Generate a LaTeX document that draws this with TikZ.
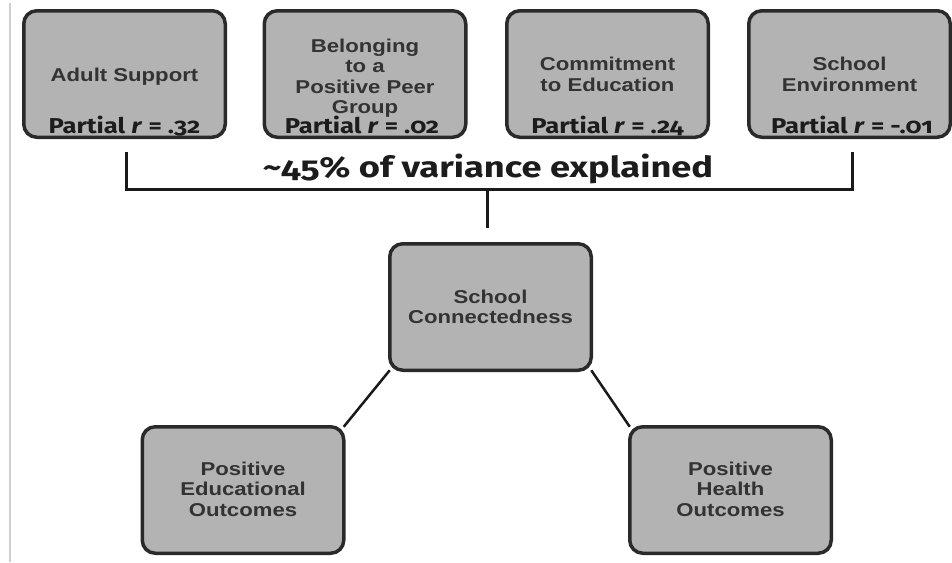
\documentclass[tikz,border=0pt]{standalone}
\usepackage{fontspec}
\setmainfont{Liberation Sans}
\newfontfamily\boxfont[FakeStretch=1.19]{Liberation Sans}
\newfontfamily\rfont[FakeStretch=1.19,Numbers=OldStyle]{Fira Sans}
\newfontfamily\tfont[FakeStretch=1.25,Numbers=OldStyle]{Fira Sans}
\usetikzlibrary{backgrounds}
\definecolor{boxfill}{HTML}{B3B3B3}
\definecolor{boxline}{HTML}{2A2A2A}
\definecolor{txtgrey}{HTML}{333333}
\definecolor{rblack}{HTML}{1C1C1C}
\definecolor{linecol}{HTML}{1A1A1A}
\definecolor{edgegrey}{HTML}{D0D0D0}
\begin{document}
\begin{tikzpicture}[x=1pt,y=-1pt,
  box/.style={draw=boxline, fill=boxfill, line width=3.5pt, rounded corners=13pt,
    minimum width=201.5pt, minimum height=126.5pt, inner sep=0pt, outer sep=0pt},
  lbl/.style={font=\boxfont\bfseries\fontsize{18.6}{20.5}\selectfont, text=txtgrey,
    align=center, inner sep=0pt},
  rlbl/.style={font=\rfont\bfseries\fontsize{21.5}{23}\selectfont, text=rblack,
    inner sep=0pt, anchor=base},
  ttl/.style={font=\tfont\bfseries\fontsize{29}{31}\selectfont, text=rblack,
    inner sep=0pt, anchor=base},
  conn/.style={line width=2.5pt, draw=linecol},
  brk/.style={line width=3pt, draw=linecol}
]
\useasboundingbox (0,0) rectangle (952,562);

% left grey edge line
\coordinate (edgeT) at (10,3);
\coordinate (edgeB) at (10,562);
\draw[edgegrey, line width=2pt] (edgeT) -- (edgeB);

% top boxes
\node[box] (b1) at (124.5,74) {};
\node[box] (b2) at (365,74) {};
\node[box] (b3) at (607.5,74) {};
\node[box] (b4) at (849.5,74) {};

\node[lbl] (t1) at (124.5,77) {Adult Support};
\node[lbl] (t2) at (365,78) {Belonging\\to a\\Positive Peer\\Group};
\node[lbl] (t3) at (607.5,74.3) {Commitment\\to Education};
\node[lbl] (t4) at (849.5,74.3) {School\\Environment};

\node[rlbl] (r1) at (124.5,133) {Partial \textit{r} = .32};
\node[rlbl] (r2) at (362,133) {Partial \textit{r} = .02};
\node[rlbl] (r3) at (607.5,133) {Partial \textit{r} = .24};
\node[rlbl] (r4) at (852,133) {Partial \textit{r} = -.01};

% bracket
\coordinate (brL) at (126,152);
\coordinate (brR) at (852,152);
\coordinate (brM) at (487,189);
\coordinate (stemEnd) at (487,228);
\draw[brk] (brL) |- (brM) -| (brR);
\draw[brk] (brM) -- (stemEnd);
\node[ttl] (title) at (488,177) {\char"7E 45\% of variance explained};

% middle and bottom boxes
\node[box] (sc) at (490.5,307) {};
\node[lbl] (tsc) at (490.5,307) {School\\Connectedness};
\node[box] (bl) at (243,490) {};
\node[lbl] (tbl) at (243,489) {Positive\\Educational\\Outcomes};
\node[box] (br) at (730.5,490) {};
\node[lbl] (tbr) at (730.5,489) {Positive\\Health\\Outcomes};

\begin{scope}[on background layer]
\draw[conn] (sc.south west) -- (bl.north east);
\draw[conn] (sc.south east) -- (br.north west);
\end{scope}
\end{tikzpicture}
\end{document}
